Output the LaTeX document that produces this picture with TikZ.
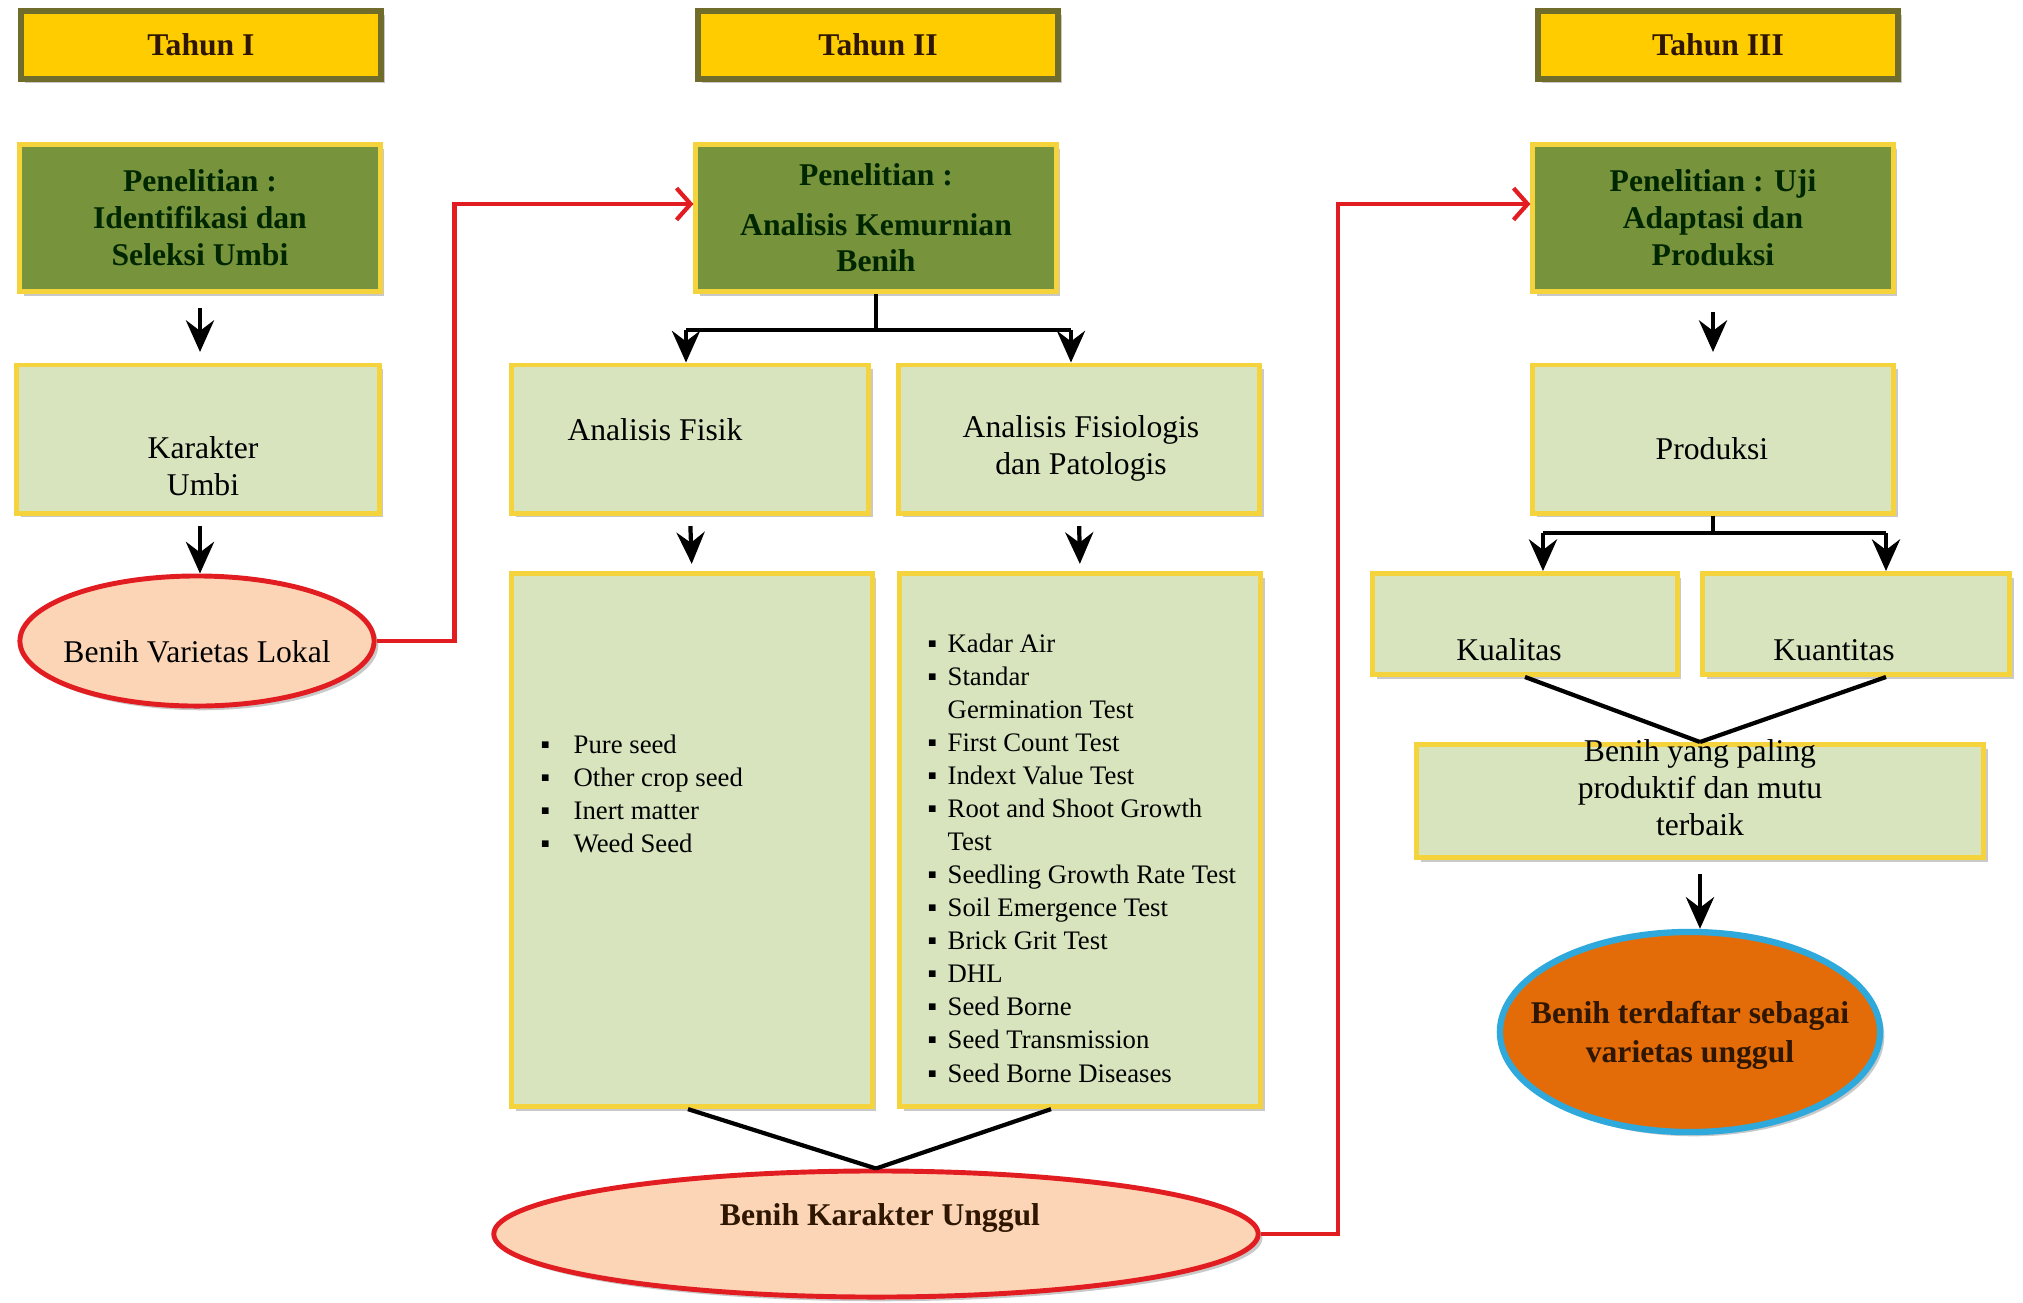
\documentclass[tikz,border=0pt]{standalone}
\usepackage{fontspec}
\setmainfont{Liberation Serif}
\usetikzlibrary{arrows.meta,shapes.geometric,shadows,calc}

\definecolor{kuningjudul}{HTML}{FFCC00}
\definecolor{tepijudul}{HTML}{6F6C2C}
\definecolor{tepikuning}{HTML}{F5D33C}
\definecolor{hijautua}{HTML}{77933C}
\definecolor{hijaumuda}{HTML}{D7E4BD}
\definecolor{persik}{HTML}{FBD5B5}
\definecolor{merah}{HTML}{E21D22}
\definecolor{oranye}{HTML}{E36C09}
\definecolor{biru}{HTML}{2FA9DC}
\definecolor{coklat}{HTML}{2E1600}

\tikzset{
  bayang/.style={drop shadow={shadow xshift=1.2pt,shadow yshift=-1.2pt,opacity=0.3,fill=black!70}},
  judul/.style={draw=tepijudul, fill=kuningjudul, line width=1.6pt, minimum width=3.6cm,
    minimum height=0.68cm, text=coklat, font=\bfseries\fontsize{9}{10.5}\selectfont, bayang},
  riset/.style={draw=tepikuning, fill=hijautua, line width=1.4pt, minimum width=3.6cm,
    minimum height=1.47cm, align=center, text=black!85!green,
    font=\bfseries\fontsize{9}{10.5}\selectfont, bayang},
  isi/.style={draw=tepikuning, fill=hijaumuda, line width=1.4pt, bayang},
  hasil/.style={ellipse, draw=merah, fill=persik, line width=1.4pt, inner sep=0pt, bayang},
  teks/.style={align=center, inner sep=0pt, font=\fontsize{9}{10.5}\selectfont},
  tebal/.style={align=center, inner sep=0pt, text=coklat, font=\bfseries\fontsize{9}{11}\selectfont},
  daftar/.style={align=left, anchor=west, inner sep=0pt, font=\fontsize{7.6}{9.4}\selectfont},
  garis/.style={line width=1.2pt},
  panah/.style={garis, -{Stealth[length=9pt,width=8pt,inset=3pt]}},
  alur/.style={draw=merah, line width=1.2pt, -{Straight Barb[length=4pt,width=9pt]}},
}

\newcommand{\butir}[1]{\makebox[0.33cm][l]{▪}#1}
\newcommand{\butirb}[1]{\makebox[0.20cm][l]{▪}#1}
\newcommand{\lanjut}[1]{\hspace*{0.20cm}#1}

\begin{document}
\begin{tikzpicture}[x=0.01cm,y=-0.01cm]
\useasboundingbox (0,0) rectangle (2023,1302);

% judul tahun
\node[judul] (th1) at (201,45) {Tahun I};
\node[judul] (th2) at (878,45) {Tahun II};
\node[judul] (th3) at (1718,45) {Tahun III};

% penelitian
\node[riset] (pen1) at (200,218) {Penelitian :\\Identifikasi dan\\Seleksi Umbi};
\node[riset] (pen2) at (876,218) {Penelitian :\\[3.5pt]Analisis Kemurnian\\Benih};
\node[riset] (pen3) at (1713,218) {Penelitian : Uji\\Adaptasi dan\\Produksi};

% tahun I
\node[isi, minimum width=3.62cm, minimum height=1.48cm] (kar) at (198,439) {};
\node[teks] (kar-t) at (203,466) {Karakter\\Umbi};
\node[hasil, minimum width=3.54cm, minimum height=1.3cm] (lokal) at (197,641) {};
\node[teks] (lokal-t) at (197,652) {Benih Varietas Lokal};

% tahun II
\node[isi, minimum width=3.57cm, minimum height=1.48cm] (fisik) at (690,439) {};
\node[teks] (fisik-t) at (655,430) {Analisis Fisik};
\node[isi, minimum width=3.61cm, minimum height=1.48cm] (fisio) at (1079,439) {};
\node[teks] (fisio-t) at (1081,448) {Analisis Fisiologis\\dan Patologis};

\node[isi, minimum width=3.6cm, minimum height=5.33cm] (list1) at (692,840) {};
\node[daftar] (list1-t) at (540,794) {\butir{Pure seed}\\\butir{Other crop seed}\\
  \butir{Inert matter}\\\butir{Weed Seed}};
\node[isi, minimum width=3.61cm, minimum height=5.33cm] (list2) at (1080,840) {};
\node[daftar] (list2-t) at (927,858) {\butirb{Kadar Air}\\\butirb{Standar}\\
  \lanjut{Germination Test}\\\butirb{First Count Test}\\\butirb{Indext Value Test}\\
  \butirb{Root and Shoot Growth}\\\lanjut{Test}\\\butirb{Seedling Growth Rate Test}\\
  \butirb{Soil Emergence Test}\\\butirb{Brick Grit Test}\\\butirb{DHL}\\
  \butirb{Seed Borne}\\\butirb{Seed Transmission}\\\butirb{Seed Borne Diseases}};

\node[hasil, minimum width=7.64cm, minimum height=1.26cm] (unggul) at (876,1234) {};
\node[tebal] (unggul-t) at (880,1218) {Benih Karakter Unggul};

% tahun III
\node[isi, minimum width=3.61cm, minimum height=1.48cm] (prod) at (1713,439) {};
\node[teks] (prod-t) at (1712,449) {Produksi};
\node[isi, minimum width=3.04cm, minimum height=1.01cm] (kual) at (1525,624) {};
\node[teks] (kual-t) at (1509,650) {Kualitas};
\node[isi, minimum width=3.07cm, minimum height=1.01cm] (kuan) at (1856,624) {};
\node[teks] (kuan-t) at (1834,650) {Kuantitas};
\node[isi, minimum width=5.67cm, minimum height=1.13cm] (paling) at (1700,801) {};
\node[teks] (paling-t) at (1700,788) {Benih yang paling\\produktif dan mutu\\terbaik};
\node[hasil, draw=biru, fill=oranye, line width=1.8pt, minimum width=3.8cm,
  minimum height=2cm] (akhir) at (1690,1032) {};
\node[tebal] (akhir-t) at (1690,1035) {Benih terdaftar sebagai\\varietas unggul};

% panah tahun I
\draw[panah, shorten <=4pt, shorten >=3pt] (pen1.south) -- (pen1.south |- kar.north);
\draw[panah, shorten <=3pt] (pen1.south |- kar.south) -- (pen1.south |- lokal.north);
\draw[alur] (lokal.east) -- ++(78,0) |- ([yshift=0.14cm]pen2.west);

% panah tahun II
\coordinate (kiri2) at (686,330);
\coordinate (kanan2) at (1071,330);
\draw[garis] (pen2.south) -- (pen2.south |- kiri2);
\draw[garis] (kiri2) -- (kanan2);
\draw[panah] (kiri2) -- (kiri2 |- fisik.north);
\draw[panah] (kanan2) -- (kanan2 |- fisio.north);
\draw[panah, shorten <=3pt, shorten >=2pt] (fisik.south) -- (list1.north);
\draw[panah, shorten <=3pt, shorten >=2pt] (fisio.south) -- (list2.north);
\draw[garis] ([xshift=-0.04cm]list1.south) -- (unggul.north);
\draw[garis] ([xshift=-0.29cm]list2.south) -- (unggul.north);
\draw[alur] (unggul.east) -- ++(77,0) |- ([yshift=0.14cm]pen3.west);

% panah tahun III
\draw[panah, shorten <=5pt, shorten >=3pt] (pen3.south) -- (prod.north);
\coordinate (kiri3) at (1543,533);
\coordinate (kanan3) at (1886,533);
\draw[garis] (prod.south) -- (prod.south |- kiri3);
\draw[garis] (kiri3) -- (kanan3);
\draw[panah] (kiri3) -- (kiri3 |- kual.north);
\draw[panah] (kanan3) -- (kanan3 |- kuan.north);
\draw[garis] (kual.south) -- (paling.north);
\draw[garis] ([xshift=0.3cm]kuan.south) -- (paling.north);
\draw[panah, shorten <=4pt] (paling.south) -- (paling.south |- akhir.north);

\end{tikzpicture}
\end{document}
